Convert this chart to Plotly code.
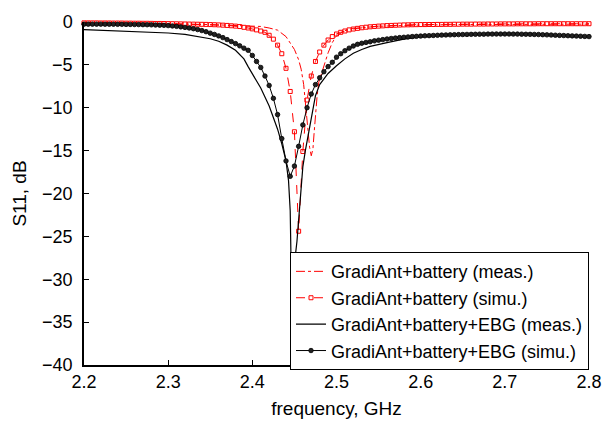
import numpy as np
import plotly.graph_objects as go

# Simulated curves: uniform frequency grid 2.200 ... 2.800 GHz, step 0.005
freq_simu = np.round(np.linspace(2.2, 2.8, 121), 4)

s11_batt_simu = [
    -0.10, -0.10, -0.10, -0.10, -0.11, -0.11, -0.11, -0.12, -0.12, -0.12,
    -0.13, -0.13, -0.14, -0.14, -0.15, -0.15, -0.16, -0.17, -0.17, -0.18,
    -0.19, -0.20, -0.21, -0.22, -0.23, -0.24, -0.25, -0.26, -0.27, -0.28,
    -0.30, -0.32, -0.34, -0.37, -0.40, -0.44, -0.48, -0.53, -0.62, -0.70,
    -0.80, -0.92, -1.05, -1.20, -1.55, -2.00, -2.70, -3.70, -5.40, -8.10,
    -12.8, -24.4, -15.1, -9.10, -6.30, -4.60, -3.50, -2.70, -2.10, -1.70,
    -1.40, -1.20, -1.05, -0.92, -0.82, -0.74, -0.67, -0.61, -0.56, -0.52,
    -0.48, -0.45, -0.42, -0.40, -0.38, -0.36, -0.34, -0.33, -0.32, -0.31,
    -0.30, -0.30, -0.29, -0.29, -0.28, -0.28, -0.27, -0.27, -0.26, -0.26,
    -0.25, -0.25, -0.25, -0.24, -0.24, -0.24, -0.23, -0.23, -0.23, -0.22,
    -0.22, -0.22, -0.22, -0.21, -0.21, -0.21, -0.21, -0.21, -0.20, -0.20,
    -0.20, -0.20, -0.20, -0.20, -0.20, -0.20, -0.20, -0.20, -0.20, -0.20,
    -0.20,
]

s11_ebg_simu = [
    -0.25, -0.25, -0.25, -0.25, -0.25, -0.26, -0.26, -0.26, -0.27, -0.27,
    -0.28, -0.28, -0.29, -0.30, -0.31, -0.32, -0.33, -0.35, -0.37, -0.39,
    -0.42, -0.46, -0.51, -0.57, -0.63, -0.70, -0.78, -0.88, -1.00, -1.13,
    -1.30, -1.45, -1.62, -1.82, -2.05, -2.28, -2.52, -2.78, -3.05, -3.30,
    -3.90, -4.60, -5.30, -6.30, -7.40, -8.90, -10.8, -13.6, -16.2, -18.0,
    -16.8, -14.5, -12.0, -10.0, -8.40, -7.30, -6.50, -5.80, -5.20, -4.70,
    -4.10, -3.70, -3.35, -3.05, -2.80, -2.60, -2.48, -2.38, -2.30, -2.20,
    -2.12, -2.05, -1.98, -1.92, -1.87, -1.82, -1.78, -1.74, -1.70, -1.67,
    -1.64, -1.61, -1.59, -1.57, -1.55, -1.53, -1.51, -1.50, -1.48, -1.47,
    -1.46, -1.45, -1.44, -1.43, -1.42, -1.42, -1.41, -1.41, -1.40, -1.40,
    -1.40, -1.40, -1.41, -1.41, -1.42, -1.43, -1.44, -1.45, -1.46, -1.48,
    -1.50, -1.52, -1.54, -1.56, -1.58, -1.60, -1.62, -1.64, -1.66, -1.68,
    -1.70,
]

# Measured curves
freq_batt_meas = [
    2.20, 2.25, 2.30, 2.35, 2.38, 2.40, 2.41, 2.42, 2.43, 2.44, 2.445, 2.45,
    2.455, 2.458, 2.461, 2.4635, 2.466, 2.468, 2.470, 2.472, 2.4735, 2.4755,
    2.477, 2.479, 2.483, 2.487, 2.490, 2.495, 2.50, 2.51, 2.52, 2.55, 2.60,
    2.65, 2.70, 2.75, 2.80,
]
s11_batt_meas = [
    -0.15, -0.17, -0.20, -0.30, -0.38, -0.45, -0.52, -0.70, -0.95, -1.70,
    -2.40, -3.20, -4.40, -5.50, -7.30, -9.80, -12.8, -14.6, -15.6, -14.8,
    -12.8, -10.2, -8.60, -7.00, -5.80, -4.60, -3.60, -2.40, -1.60, -1.00,
    -0.75, -0.50, -0.35, -0.30, -0.28, -0.26, -0.25,
]

freq_ebg_meas = [
    2.20, 2.25, 2.275, 2.30, 2.32, 2.34, 2.35, 2.36, 2.37, 2.38, 2.39, 2.395,
    2.40, 2.41, 2.42, 2.43, 2.435, 2.44, 2.443, 2.445, 2.4465, 2.448, 2.450,
    2.453, 2.4566, 2.460, 2.463, 2.466, 2.469, 2.472, 2.475, 2.48, 2.49, 2.50,
    2.51, 2.52, 2.53, 2.54, 2.55, 2.56, 2.58, 2.60, 2.62, 2.65, 2.68, 2.70,
    2.72, 2.75, 2.78, 2.80,
]
s11_ebg_meas = [
    -0.88, -1.05, -1.14, -1.28, -1.45, -1.75, -1.95, -2.25, -2.70, -3.30,
    -4.30, -5.20, -6.00, -7.70, -9.80, -12.5, -14.2, -16.2, -18.5, -22.0,
    -31.0, -30.0, -28.2, -25.6, -21.0, -16.9, -15.0, -13.4, -11.8, -9.80,
    -8.60, -7.30, -6.00, -5.10, -4.30, -3.65, -3.20, -2.85, -2.60, -2.40,
    -2.00, -1.75, -1.60, -1.48, -1.38, -1.35, -1.35, -1.45, -1.60, -1.75,
]

names = [
    "GradiAnt+battery (meas.)",
    "GradiAnt+battery (simu.)",
    "GradiAnt+battery+EBG (meas.)",
    "GradiAnt+battery+EBG (simu.)",
]

x_ticks = [2.2, 2.3, 2.4, 2.5, 2.6, 2.7, 2.8]
y_ticks = [0, -5, -10, -15, -20, -25, -30, -35, -40]

FONT = "Liberation Sans, Arial, sans-serif"
TITLE_FONT = dict(family=FONT, size=19, color="black")

fig = go.Figure()
fig.add_trace(go.Scatter(
    x=freq_batt_meas, y=s11_batt_meas, name=names[0], mode="lines",
    line=dict(color="#ff0000", width=1, dash="dashdot"), cliponaxis=False))
fig.add_trace(go.Scatter(
    x=freq_simu, y=s11_batt_simu, name=names[1], mode="lines+markers",
    line=dict(color="#ff0000", width=1, dash="dash"),
    marker=dict(symbol="square-open", size=4, color="#ff0000",
                line=dict(width=1, color="#ff0000")),
    cliponaxis=False))
fig.add_trace(go.Scatter(
    x=freq_ebg_meas, y=s11_ebg_meas, name=names[2], mode="lines",
    line=dict(color="#000000", width=1.2), cliponaxis=False))
fig.add_trace(go.Scatter(
    x=freq_simu, y=s11_ebg_simu, name=names[3], mode="lines+markers",
    line=dict(color="#000000", width=1),
    marker=dict(symbol="circle", size=4.5, color="#222222",
                line=dict(width=0.8, color="#000000")),
    cliponaxis=False))

fig.update_layout(
    width=614, height=428,
    margin=dict(l=84, r=22, t=20, b=58),
    paper_bgcolor="white", plot_bgcolor="white",
    font=dict(family=FONT, size=18, color="black"),
    showlegend=True,
    legend=dict(
        x=1.0, y=-0.015, xanchor="right", yanchor="bottom",
        bgcolor="white", bordercolor="black", borderwidth=1,
        font=dict(family=FONT, size=18, color="black"),
        itemwidth=30, tracegroupgap=0,
    ),
    xaxis=dict(
        range=[2.2, 2.8], tickvals=x_ticks, ticktext=[f"{v:.1f}" for v in x_ticks],
        ticks="inside", ticklen=5, tickwidth=1, tickcolor="black",
        tickfont=dict(family=FONT, size=18, color="black"),
        showline=True, linecolor="black", linewidth=1.5, mirror=False,
        showgrid=False, zeroline=False,
        title=dict(text="frequency, GHz", standoff=10, font=TITLE_FONT),
    ),
    yaxis=dict(
        range=[-40, 0], tickvals=y_ticks,
        ticks="inside", ticklen=5, tickwidth=1, tickcolor="black",
        tickfont=dict(family=FONT, size=18, color="black"),
        showline=True, linecolor="black", linewidth=1.5, mirror=False,
        showgrid=False, zeroline=False, ticklabelstandoff=6,
        title=dict(text="S11, dB", standoff=10, font=TITLE_FONT),
    ),
)

fig.write_html("out.html")
